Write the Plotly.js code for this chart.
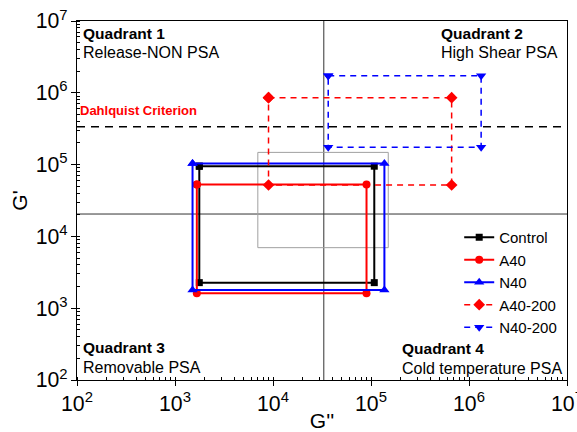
<!DOCTYPE html>
<html>
<head>
<meta charset="utf-8">
<script src="https://cdn.plot.ly/plotly-3.0.1.min.js"></script>
<style>html,body{margin:0;padding:0;background:#fff;}#chart{width:577px;height:432px;}</style>
</head>
<body>
<div id="chart"></div>
<script>
// Series: G'' (loss modulus) and G' (storage modulus) window corners
const seriesNames = ["Control", "A40", "N40", "A40-200", "N40-200"];
const controlGpp = [1770, 108000];
const controlGp = [2270, 95000];
const a40Gpp = [1670, 90000];
const a40Gp = [1610, 53000];
const n40Gpp = [1510, 137000];
const n40Gp = [1790, 104000];
const a40_200Gpp = [9000, 665000];
const a40_200Gp = [52000, 855000];
const n40_200Gpp = [36600, 1330000];
const n40_200Gp = [174000, 1730000];

// Reference lines / boxes
const quadrantGpp = 33000;
const quadrantGp = 20500;
const dahlquistGp = 337000;
const grayBoxGpp = [7000, 150000];
const grayBoxGp = [6970, 148000];

const axisRange = [2, 7];

function rectPath(gpp, gp) {
  return {
    x: [gpp[0], gpp[1], gpp[1], gpp[0], gpp[0]],
    y: [gp[1], gp[1], gp[0], gp[0], gp[1]]
  };
}

const styles = [
  {color: "#000000", symbol: "square", size: 7, dash: "solid", width: 2},
  {color: "#ff0000", symbol: "circle", size: 8, dash: "solid", width: 2},
  {color: "#0000ff", symbol: "triangle-up", size: 9, dash: "solid", width: 2},
  {color: "#ff0000", symbol: "diamond", size: 9, dash: "6px,5px", width: 1.5},
  {color: "#0000ff", symbol: "triangle-down", size: 9, dash: "6px,5px", width: 1.5}
];
const dataSets = [
  [controlGpp, controlGp], [a40Gpp, a40Gp], [n40Gpp, n40Gp],
  [a40_200Gpp, a40_200Gp], [n40_200Gpp, n40_200Gp]
];

const traces = dataSets.map((d, i) => {
  const p = rectPath(d[0], d[1]);
  const s = styles[i];
  return {
    type: "scatter", mode: "lines+markers", name: seriesNames[i],
    x: p.x, y: p.y,
    line: {color: s.color, width: s.width, dash: s.dash},
    marker: {color: s.color, symbol: s.symbol, size: s.size}
  };
});

const font = "Liberation Sans, Arial, sans-serif";

const axisCommon = {
  type: "log", range: axisRange, dtick: 1,
  exponentformat: "power", showexponent: "all",
  showgrid: false, zeroline: false,
  showline: true, linecolor: "#000", linewidth: 1, mirror: true,
  ticks: "outside", ticklen: 5, tickcolor: "#000", tickwidth: 1,
  ticklabeloverflow: "allow",
  minor: {ticks: "inside", ticklen: 3, tickcolor: "#000", dtick: "D1", showgrid: false},
  tickfont: {family: font, size: 17, color: "#000"}
};

const layout = {
  width: 577, height: 432,
  margin: {l: 77, r: 10, t: 21, b: 52},
  paper_bgcolor: "#fff", plot_bgcolor: "#fff",
  font: {family: font, color: "#000"},
  showlegend: true,
  legend: {x: 0.78, y: 0.443, xanchor: "left", yanchor: "top",
           bgcolor: "rgba(0,0,0,0)", borderwidth: 0,
           font: {family: font, size: 15, color: "#000"}, tracegroupgap: 0},
  xaxis: Object.assign({}, axisCommon, {
    title: {text: "G''", font: {family: font, size: 21}, standoff: 3}
  }),
  yaxis: Object.assign({}, axisCommon, {
    title: {text: "G'", font: {family: font, size: 21}, standoff: 2}
  }),
  shapes: [
    {type: "line", xref: "x", yref: "paper", x0: quadrantGpp, x1: quadrantGpp, y0: 0, y1: 1,
     line: {color: "#333", width: 1}, layer: "below"},
    {type: "line", xref: "paper", yref: "y", x0: 0, x1: 1, y0: quadrantGp, y1: quadrantGp,
     line: {color: "#333", width: 1}, layer: "below"},
    {type: "line", xref: "paper", yref: "y", x0: 0, x1: 1, y0: dahlquistGp, y1: dahlquistGp,
     line: {color: "#000", width: 1.5, dash: "8px,6px"}, layer: "below"},
    {type: "rect", xref: "x", yref: "y", x0: grayBoxGpp[0], x1: grayBoxGpp[1], y0: grayBoxGp[0], y1: grayBoxGp[1],
     line: {color: "#a0a0a0", width: 1}, fillcolor: "rgba(0,0,0,0)", layer: "below"}
  ],
  annotations: [
    {text: "<b>Quadrant 1</b>", x: 0.008, y: 0.9638, size: 15.5},
    {text: "Release-NON PSA", x: 0.008, y: 0.9109},
    {text: "<b>Quadrant 2</b>", x: 0.739, y: 0.9638, size: 15.5},
    {text: "High Shear PSA", x: 0.739, y: 0.9109},
    {text: "<b>Quadrant 3</b>", x: 0.008, y: 0.0919, size: 15.5},
    {text: "Removable PSA", x: 0.008, y: 0.0362},
    {text: "<b>Quadrant 4</b>", x: 0.659, y: 0.0864, size: 15.5},
    {text: "Cold temperature PSA", x: 0.659, y: 0.0334},
    {text: "<b>Dahlquist Criterion</b>", x: 0.002, y: 0.752, color: "#ff0000", size: 13}
  ].map(a => ({
    text: a.text, xref: "paper", yref: "paper", x: a.x, y: a.y,
    xanchor: "left", yanchor: "middle", showarrow: false,
    font: {family: font, size: a.size || 16, color: a.color || "#000"}
  }))
};

Plotly.newPlot("chart", traces, layout, {displayModeBar: false, staticPlot: true});
</script>
</body>
</html>
